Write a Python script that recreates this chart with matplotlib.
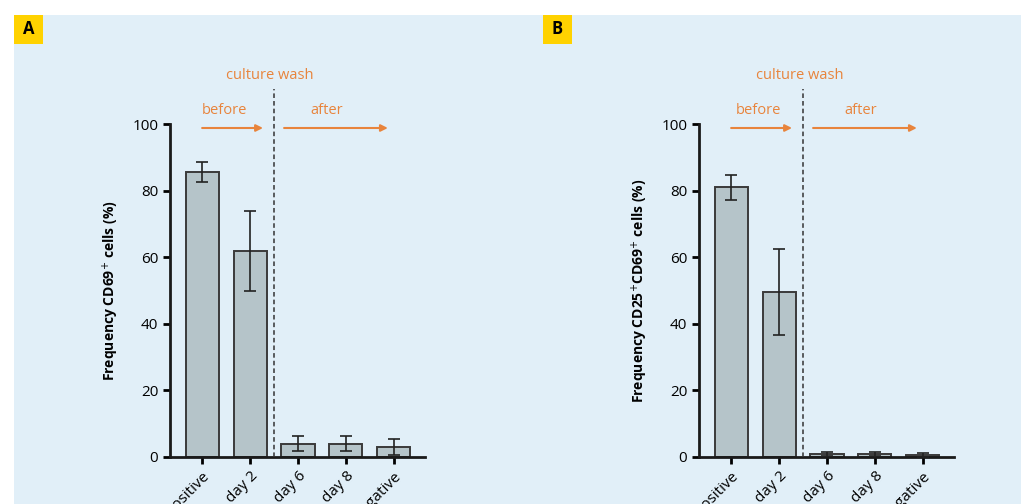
import matplotlib
matplotlib.use("Agg")
import matplotlib.pyplot as plt
from matplotlib.patches import Rectangle
import numpy as np

categories = ["positive", "day 2", "day 6", "day 8", "negative"]
values_a = [85.5, 62.0, 4.0, 4.0, 3.0]
err_a = [3.0, 12.0, 2.3, 2.3, 2.3]
values_b = [81.0, 49.5, 1.0, 0.8, 0.6]
err_b = [3.7, 13.0, 0.6, 0.6, 0.6]
yticks = [0, 20, 40, 60, 80, 100]
ylabel_a = "Frequency CD69$^{+}$ cells (%)"
ylabel_b = "Frequency CD25$^{+}$CD69$^{+}$ cells (%)"

W, H = 1021, 504
fig = plt.figure(figsize=(W / 100, H / 100), dpi=100, facecolor="white")
plt.rcParams["font.family"] = ["Open Sans", "DejaVu Sans"]

BG = "#E1EFF8"
ORANGE = "#E8843C"
BAR = "#B5C4C9"

fig.patches.append(Rectangle((14 / W, 0), 1 - 14 / W, 1 - 15 / H,
                             transform=fig.transFigure, facecolor=BG,
                             edgecolor="none", zorder=-10))


def label_box(x, txt):
    fig.patches.append(Rectangle((x / W, 1 - 44 / H), 29 / W, 29 / H,
                                 transform=fig.transFigure, facecolor="#FFD200",
                                 edgecolor="none", zorder=-5))
    fig.text((x + 14.5) / W, 1 - 29.5 / H, txt, ha="center", va="center",
             fontsize=12, fontweight="bold", color="black")


label_box(14, "A")
label_box(543, "B")


def panel(left_px, values, errs, ylabel, before_x, after_x, wash_x):
    ax = fig.add_axes([left_px / W, 1 - 457 / H, 255 / W, 333 / H])
    ax.set_facecolor("none")
    x = np.arange(len(categories))
    ax.bar(x, values, width=0.69, color=BAR, edgecolor="#3a3a3a",
           linewidth=1.4, zorder=2)
    ax.errorbar(x, values, yerr=errs, fmt="none", ecolor="#222222",
                elinewidth=1.2, capsize=4.5, capthick=1.2, zorder=3)
    ax.set_xlim(-0.67, 4.65)
    ax.set_ylim(0, 100)
    ax.set_yticks(yticks)
    ax.set_xticks(x)
    ax.set_xticklabels(categories, rotation=45, ha="right",
                       rotation_mode="anchor", fontsize=11)
    ax.tick_params(axis="y", labelsize=11, width=2, length=5, direction="out")
    ax.tick_params(axis="x", width=2, length=5, direction="out")
    for s in ["top", "right"]:
        ax.spines[s].set_visible(False)
    for s in ["left", "bottom"]:
        ax.spines[s].set_linewidth(2)
        ax.spines[s].set_color("#1a1a1a")
    ax.set_ylabel(ylabel, fontsize=10, fontweight="bold", labelpad=8)
    # culture wash dashed separator
    ax.plot([1.5, 1.5], [0, 110.5], linestyle=(0, (3, 2)), color="#333333",
            linewidth=1.1, clip_on=False, zorder=4)
    ax.text(wash_x, 114.7, "culture wash", ha="center", va="center",
            color=ORANGE, fontsize=10.5, clip_on=False)
    ax.text(before_x, 104, "before", ha="center", va="center",
            color=ORANGE, fontsize=10.5, clip_on=False)
    ax.text(after_x, 104, "after", ha="center", va="center",
            color=ORANGE, fontsize=10.5, clip_on=False)
    ax.annotate("", xy=(1.27, 98.8), xytext=(0.0, 98.8),
                arrowprops=dict(arrowstyle="-|>", color=ORANGE, lw=1.5,
                                mutation_scale=10, shrinkA=0, shrinkB=0),
                annotation_clip=False)
    ax.annotate("", xy=(3.875, 98.8), xytext=(1.71, 98.8),
                arrowprops=dict(arrowstyle="-|>", color=ORANGE, lw=1.5,
                                mutation_scale=10, shrinkA=0, shrinkB=0),
                annotation_clip=False)
    return ax


panel(170, values_a, err_a, ylabel_a, 0.46, 2.6, 1.42)
panel(699, values_b, err_b, ylabel_b, 0.56, 2.7, 1.44)

fig.savefig("out.png", dpi=100, facecolor="white")
